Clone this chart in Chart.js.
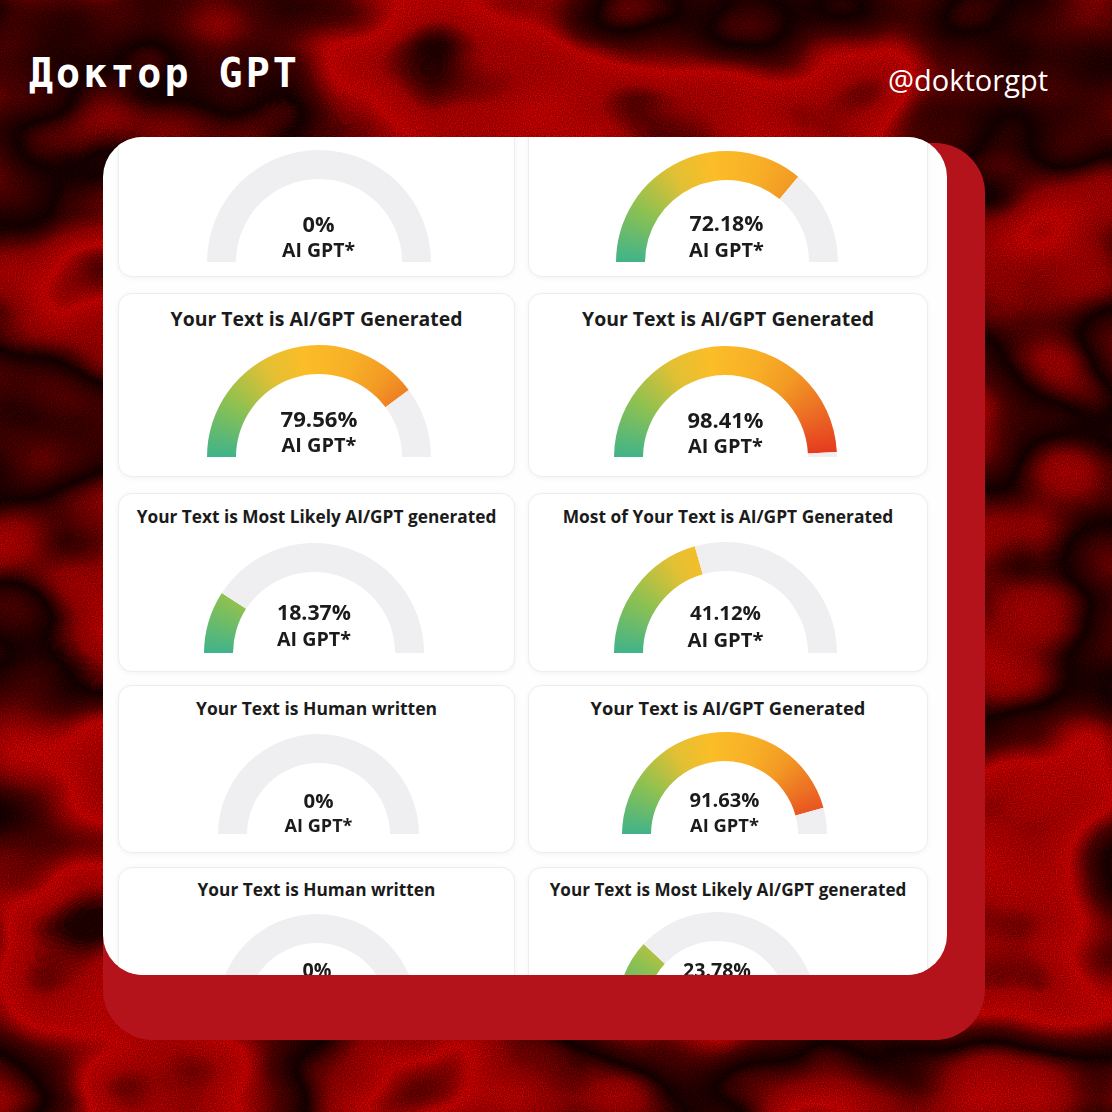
<!DOCTYPE html>
<html>
<head>
<meta charset="utf-8">
<script src="https://cdn.jsdelivr.net/npm/chart.js@4.4.1/dist/chart.umd.min.js"></script>
<style>
  html,body{margin:0;padding:0;width:1112px;height:1112px;overflow:hidden;background:#3a0606;}
  #bg{position:absolute;left:0;top:0;}
  .brand{position:absolute;left:29px;top:48px;font-family:"DejaVu Sans Mono",monospace;font-weight:bold;font-size:40px;letter-spacing:3px;color:#fff;line-height:50px;white-space:nowrap;}
  .handle{position:absolute;right:64px;top:58px;font-family:"Open Sans",sans-serif;font-size:29px;color:#fff;line-height:44px;white-space:nowrap;}
  #redcard{position:absolute;left:103px;top:143px;width:882px;height:897px;border-radius:50px;background:#b5131b;}
  #card{position:absolute;left:103px;top:137px;width:844px;height:838px;border-radius:40px;background:#fefefe;overflow:hidden;}
  #inner{position:absolute;left:-103px;top:-137px;width:1112px;height:1112px;}
  .panel{position:absolute;background:#fff;border:1px solid #eeeeee;border-radius:14px;box-shadow:0 1px 5px rgba(0,0,0,0.05);box-sizing:border-box;}
  .gauge{position:absolute;}
  .txt{position:absolute;transform:translate(-50%,-50%);font-family:"Open Sans",sans-serif;font-weight:700;color:#1b1b1b;white-space:nowrap;line-height:0.8;font-size:20px;}
</style>
</head>
<body>
<svg id="bg" width="1112" height="1112" xmlns="http://www.w3.org/2000/svg">
  <defs>
    <filter id="marble" x="0" y="0" width="1112" height="1112" filterUnits="userSpaceOnUse" color-interpolation-filters="sRGB">
      <feTurbulence type="fractalNoise" baseFrequency="0.0034 0.0048" numOctaves="3" seed="23" result="t"/>
      <feColorMatrix in="t" type="matrix" values="1 0 0 0 0  1 0 0 0 0  1 0 0 0 0  0 0 0 0 1" result="g"/>
      <feComponentTransfer in="g" result="bands">
        <feFuncR type="table" tableValues="0.05 0.06 0.15 0.75 0.88 0.35 0.08 0.65 0.88 0.3 0.06 0.05"/>
      </feComponentTransfer>
      <feColorMatrix in="bands" type="matrix" values="0.86 0 0 0 0  0.09 0 0 0 0  0.07 0 0 0 0  0 0 0 0 1" result="red"/>
      <feTurbulence type="fractalNoise" baseFrequency="0.85" numOctaves="1" seed="3" result="n"/>
      <feColorMatrix in="n" type="matrix" values="1 0 0 0 0  0.15 0 0 0 0  0.12 0 0 0 0  0 0 0 0 1" result="grain"/>
      <feComposite in="red" in2="grain" operator="arithmetic" k1="0.85" k2="0.5" k3="0.12" k4="-0.05"/>
    </filter>
  </defs>
  <rect x="0" y="0" width="1112" height="1112" fill="#000" filter="url(#marble)"/>
</svg>

<div class="brand">Доктор GPT</div>
<div class="handle">@doktorgpt</div>

<div id="redcard"></div>
<div id="card"><div id="inner"></div></div>

<script>
// ---- data ----
const gaugeValues = [0, 72.18, 79.56, 98.41, 18.37, 41.12, 0, 91.63, 0, 23.78];
const gaugeTitles = [
  "", "",
  "Your Text is AI/GPT Generated", "Your Text is AI/GPT Generated",
  "Your Text is Most Likely AI/GPT generated", "Most of Your Text is AI/GPT Generated",
  "Your Text is Human written", "Your Text is AI/GPT Generated",
  "Your Text is Human written", "Your Text is Most Likely AI/GPT generated"
];
const gaugeLabel = "AI GPT*";
const gaugeMax = 100;

// ---- layout (positions / sizes only) ----
const colX = [[118, 515], [528, 928]];
const rowY = [[90, 277], [293, 477], [493, 672], [685, 853], [867, 1060]];
const titleY = [0, 319, 517, 708, 890];
// cx, bottom cy, radius, value text y, label text y
const gaugeGeom = [
  [318.5, 262, 112, 224, 250], [726.5, 262, 111, 223, 250],
  [319, 457, 112, 419, 445],   [725.5, 457, 111.5, 420, 446],
  [314, 653, 110, 612, 639],   [725.5, 653, 111.5, 612, 639],
  [318.5, 834, 100.5, 800, 825], [724.5, 834, 102.5, 799, 825],
  [317, 1014, 100, 970, 995],  [717, 1012, 100, 970, 995]
];
// target text widths (px)
const titleW = [0, 0, 292, 292, 360, 331, 241, 275, 238, 357];
const valueW = [32, 74, 77, 76, 74, 71, 30, 70, 29, 68];
const labelW = [73, 75, 75, 75, 74, 76, 68, 69, 0, 0];
const ringWidth = 29;
const trackColor = "#efeff1";
const gradStops = [
  [0.00, "#40b38a"], [0.18, "#8fc150"], [0.33, "#e2c034"], [0.45, "#fbbd28"],
  [0.60, "#f8b026"], [0.72, "#f29a24"], [0.85, "#ec6d24"], [1.00, "#e4351e"]
];

const inner = document.getElementById("inner");

function addText(text, x, y, targetW) {
  const d = document.createElement("div");
  d.className = "txt";
  d.textContent = text;
  d.style.left = x + "px";
  d.style.top = y + "px";
  inner.appendChild(d);
  if (targetW) {
    const w = d.getBoundingClientRect().width;
    if (w > 0) d.style.fontSize = (20 * targetW / w).toFixed(2) + "px";
  }
}

// panels
for (let i = 0; i < gaugeValues.length; i++) {
  const col = i % 2, row = Math.floor(i / 2);
  const p = document.createElement("div");
  p.className = "panel";
  p.style.left = colX[col][0] + "px";
  p.style.width = (colX[col][1] - colX[col][0]) + "px";
  p.style.top = rowY[row][0] + "px";
  p.style.height = (rowY[row][1] - rowY[row][0]) + "px";
  inner.appendChild(p);
}

function arcGradient(ctx) {
  const chart = ctx.chart;
  const area = chart.chartArea;
  if (!area) return trackColor;
  const ctrl = chart.getDatasetMeta(ctx.datasetIndex).controller;
  const cx = (area.left + area.right) / 2 + (ctrl.offsetX || 0);
  const cy = (area.top + area.bottom) / 2 + (ctrl.offsetY || 0);
  const g = chart.ctx.createConicGradient(Math.PI, cx, cy);
  gradStops.forEach(([f, c]) => g.addColorStop(f / 2, c));
  g.addColorStop(1, gradStops[gradStops.length - 1][1]);
  return g;
}

for (let i = 0; i < gaugeValues.length; i++) {
  const col = i % 2, row = Math.floor(i / 2);
  const [cx, cy, r, vy, ly] = gaugeGeom[i];
  const box = document.createElement("div");
  box.className = "gauge";
  box.style.left = (cx - r) + "px";
  box.style.top = (cy - r) + "px";
  box.style.width = (2 * r) + "px";
  box.style.height = r + "px";
  const cv = document.createElement("canvas");
  box.appendChild(cv);
  inner.appendChild(box);

  const v = gaugeValues[i];
  new Chart(cv, {
    type: "doughnut",
    data: {
      labels: ["AI", "Human"],
      datasets: [{
        data: [v, gaugeMax - v],
        backgroundColor: (c) => c.dataIndex === 0 ? arcGradient(c) : trackColor,
        borderWidth: 0,
        hoverOffset: 0
      }]
    },
    options: {
      responsive: true,
      maintainAspectRatio: false,
      animation: false,
      events: [],
      rotation: -90,
      circumference: 180,
      cutout: (100 * (r - ringWidth) / r) + "%",
      layout: { padding: 0 },
      plugins: { legend: { display: false }, tooltip: { enabled: false }, title: { display: false } }
    }
  });

  if (gaugeTitles[i]) addText(gaugeTitles[i], (colX[col][0] + colX[col][1]) / 2, titleY[row], titleW[i]);
  addText(v + "%", cx, vy, valueW[i]);
  if (labelW[i]) addText(gaugeLabel, cx, ly, labelW[i]);
}
</script>
</body>
</html>
